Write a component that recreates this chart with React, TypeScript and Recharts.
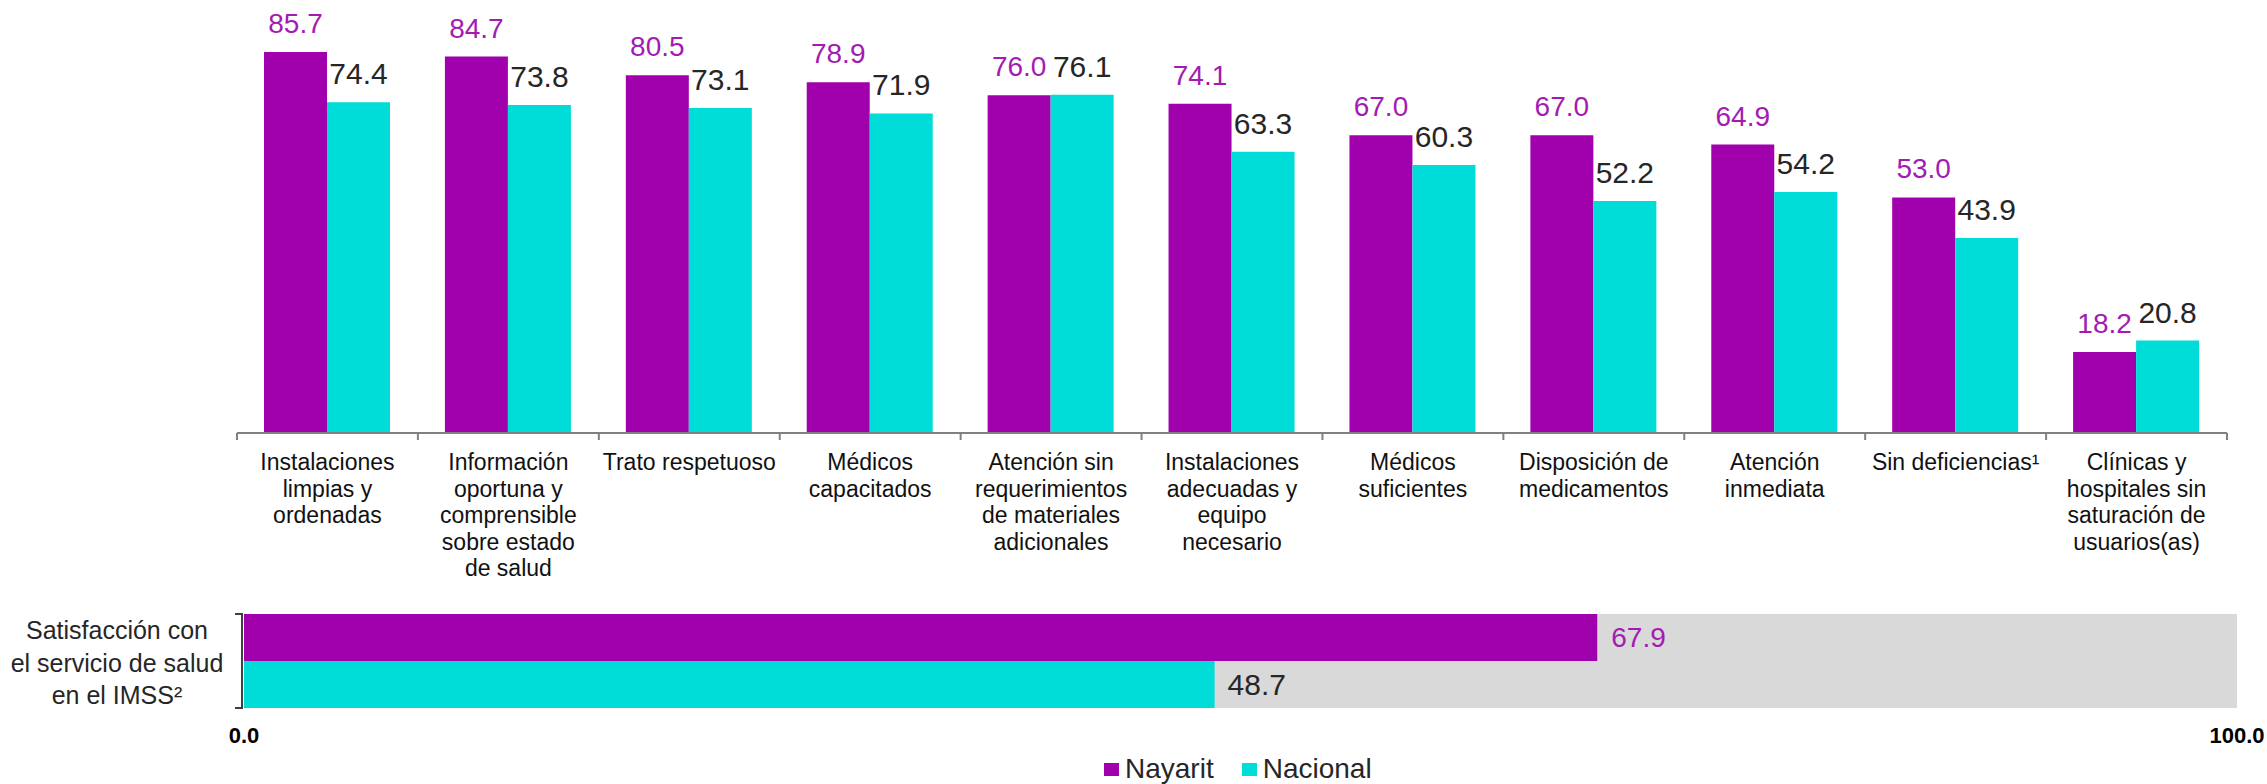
import { BarChart, Bar, XAxis, YAxis, LabelList, Legend } from "recharts"

const categoryLines = [
  ["Instalaciones", "limpias y", "ordenadas"],
  ["Información", "oportuna y", "comprensible", "sobre estado", "de salud"],
  ["Trato respetuoso"],
  ["Médicos", "capacitados"],
  ["Atención sin", "requerimientos", "de materiales", "adicionales"],
  ["Instalaciones", "adecuadas y", "equipo", "necesario"],
  ["Médicos", "suficientes"],
  ["Disposición de", "medicamentos"],
  ["Atención", "inmediata"],
  ["Sin deficiencias¹"],
  ["Clínicas y", "hospitales sin", "saturación de", "usuarios(as)"],
]
const categories = categoryLines.map((l) => l.join(" "))
const nayarit = [85.7, 84.7, 80.5, 78.9, 76.0, 74.1, 67.0, 67.0, 64.9, 53.0, 18.2]
const nacional = [74.4, 73.8, 73.1, 71.9, 76.1, 63.3, 60.3, 52.2, 54.2, 43.9, 20.8]

const summaryLines = ["Satisfacción con", "el servicio de salud", "en el IMSS²"]
const summaryNayarit = 67.9
const summaryNacional = 48.7
const summaryTicks = [0, 100]

const PURPLE = "#A100AD"
const PURPLE_TEXT = "#A31BB3"
const CYAN = "#00DDD8"
const DARK = "#262626"
const FONT = "'Liberation Sans', Arial, sans-serif"

const PLOT_LEFT = 237
const PLOT_RIGHT = 2227
const BAND = (PLOT_RIGHT - PLOT_LEFT) / categories.length

const topData = categories.map((name, i) => ({ name, nayarit: nayarit[i], nacional: nacional[i] }))
const bottomData = [{ name: summaryLines.join(" "), nayarit: summaryNayarit, nacional: summaryNacional }]

const fmt = (v: any) => Number(v).toFixed(1)

function CategoryTick(props: any) {
  const { x, y, index } = props
  const lines = categoryLines[index] || []
  const half = BAND / 2
  return (
    <g>
      <line x1={x - half} x2={x - half} y1={y} y2={y + 7} stroke="#808080" strokeWidth={2} />
      {index === categories.length - 1 && (
        <line x1={x + half} x2={x + half} y1={y} y2={y + 7} stroke="#808080" strokeWidth={2} />
      )}
      <text x={x} y={y + 37} textAnchor="middle" fontSize={23} fontFamily={FONT} fill="#111">
        {lines.map((l, i) => (
          <tspan key={i} x={x} dy={i === 0 ? 0 : 26.5}>
            {l}
          </tspan>
        ))}
      </text>
    </g>
  )
}

function SummaryTick(props: any) {
  const { x, y } = props
  const bx = x - 2
  return (
    <g>
      <path d={`M${bx - 7},${y - 47} H${bx} V${y + 47} H${bx - 7}`} fill="none" stroke="#404040" strokeWidth={2} />
      <text x={117} y={y - 22} textAnchor="middle" fontSize={25} fontFamily={FONT} fill={DARK}>
        {summaryLines.map((l, i) => (
          <tspan key={i} x={117} dy={i === 0 ? 0 : 32.5}>
            {l}
          </tspan>
        ))}
      </text>
    </g>
  )
}

function LegendContent() {
  const items = [
    { label: "Nayarit", color: PURPLE },
    { label: "Nacional", color: CYAN },
  ]
  return (
    <div style={{ height: 30, display: "flex", alignItems: "center", fontFamily: FONT, fontSize: 28, color: DARK }}>
      {items.map((it, i) => (
        <div key={it.label} style={{ display: "flex", alignItems: "center", marginRight: i === 0 ? 28 : 0 }}>
          <span style={{ display: "inline-block", width: 15, height: 13, background: it.color, marginRight: 6 }} />
          <span>{it.label}</span>
        </div>
      ))}
    </div>
  )
}

export default function App() {
  return (
    <div style={{ position: "absolute", left: 0, top: 0, width: 2267, height: 784, background: "#fff" }}>
      <div style={{ position: "absolute", left: 0, top: 0 }}>
        <BarChart
          width={2267}
          height={600}
          data={topData}
          margin={{ top: 33, right: 2267 - PLOT_RIGHT, left: PLOT_LEFT, bottom: 0 }}
          barCategoryGap={27}
          barGap={0}
        >
          <XAxis
            dataKey="name"
            height={167}
            interval={0}
            axisLine={{ stroke: "#808080", strokeWidth: 2 }}
            tickLine={false}
            tickSize={0}
            tickMargin={0}
            tick={<CategoryTick />}
          />
          <YAxis hide domain={[0, 90]} />
          <Bar dataKey="nayarit" fill={PURPLE} isAnimationActive={false}>
            <LabelList
              dataKey="nayarit"
              position="top"
              offset={19}
              formatter={fmt}
              fill={PURPLE_TEXT}
              fontSize={28}
              fontFamily={FONT}
            />
          </Bar>
          <Bar dataKey="nacional" fill={CYAN} isAnimationActive={false}>
            <LabelList
              dataKey="nacional"
              position="top"
              offset={18}
              formatter={fmt}
              fill={DARK}
              fontSize={30}
              fontFamily={FONT}
            />
          </Bar>
        </BarChart>
      </div>
      <div style={{ position: "absolute", left: 0, top: 600 }}>
        <BarChart
          layout="vertical"
          width={2267}
          height={184}
          data={bottomData}
          margin={{ top: 14, right: 2267 - 2237, left: 0, bottom: 0 }}
          barCategoryGap={0}
          barGap={0}
        >
          <YAxis
            type="category"
            dataKey="name"
            width={244}
            axisLine={false}
            tickLine={false}
            tickSize={0}
            tickMargin={0}
            tick={<SummaryTick />}
          />
          <XAxis
            type="number"
            domain={[0, 100]}
            ticks={summaryTicks}
            tickFormatter={fmt}
            height={46}
            axisLine={false}
            tickLine={false}
            tickSize={0}
            tickMargin={19}
            tick={{ fontSize: 22, fontWeight: "bold", fill: "#000", fontFamily: FONT }}
          />
          <Legend
            verticalAlign="bottom"
            content={<LegendContent />}
            wrapperStyle={{ left: 1104, width: "auto", bottom: 0 }}
          />
          <Bar dataKey="nayarit" fill={PURPLE} background={{ fill: "#D9D9D9" }} isAnimationActive={false}>
            <LabelList
              dataKey="nayarit"
              position="right"
              offset={14}
              formatter={fmt}
              fill={PURPLE_TEXT}
              fontSize={28}
              fontFamily={FONT}
            />
          </Bar>
          <Bar dataKey="nacional" fill={CYAN} background={{ fill: "#D9D9D9" }} isAnimationActive={false}>
            <LabelList
              dataKey="nacional"
              position="right"
              offset={13}
              formatter={fmt}
              fill={DARK}
              fontSize={30}
              fontFamily={FONT}
            />
          </Bar>
        </BarChart>
      </div>
    </div>
  )
}
